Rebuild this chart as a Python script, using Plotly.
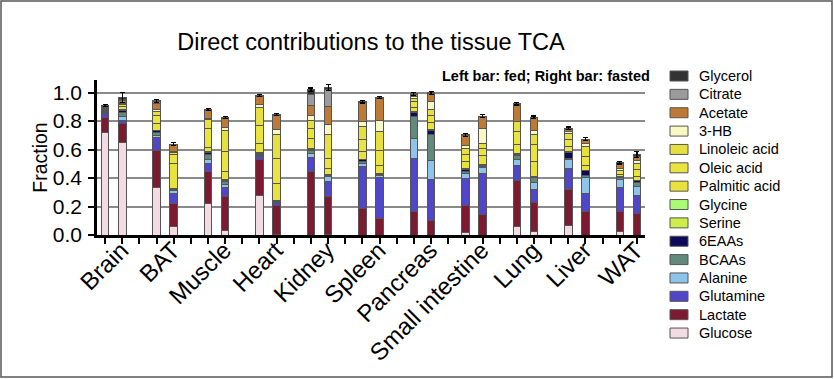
import plotly.graph_objects as go

tissues = ["Brain", "BAT", "Muscle", "Heart", "Kidney", "Spleen", "Pancreas",
           "Small intestine", "Lung", "Liver", "WAT"]

# order: for each tissue [fed, fasted]
glucose   = [0.720,0.648, 0.335,0.058, 0.222,0.030, 0.274,0.005, 0.000,0.003, 0.000,0.000, 0.000,0.000, 0.016,0.000, 0.058,0.023, 0.065,0.000, 0.028,0.000]
lactate   = [0.106,0.136, 0.261,0.164, 0.222,0.239, 0.257,0.199, 0.444,0.266, 0.187,0.117, 0.168,0.105, 0.188,0.147, 0.328,0.206, 0.255,0.164, 0.136,0.152]
glutamine = [0.025,0.023, 0.090,0.071, 0.059,0.066, 0.023,0.023, 0.101,0.105, 0.293,0.288, 0.370,0.286, 0.194,0.286, 0.101,0.087, 0.148,0.124, 0.171,0.122]
alanine   = [0.010,0.025, 0.014,0.018, 0.028,0.020, 0.006,0.003, 0.028,0.035, 0.023,0.010, 0.136,0.131, 0.032,0.039, 0.044,0.054, 0.065,0.119, 0.058,0.063]
bcaas     = [0.008,0.030, 0.022,0.006, 0.037,0.022, 0.006,0.003, 0.017,0.011, 0.014,0.008, 0.156,0.180, 0.015,0.010, 0.026,0.032, 0.007,0.013, 0.010,0.033]
eaas6     = [0.006,0.012, 0.010,0.005, 0.012,0.008, 0.006,0.004, 0.010,0.006, 0.010,0.007, 0.030,0.035, 0.016,0.008, 0.008,0.008, 0.040,0.031, 0.005,0.010]
serine    = [0.002,0.003, 0.002,0.001, 0.003,0.002, 0.002,0.001, 0.002,0.001, 0.002,0.001, 0.003,0.002, 0.002,0.001, 0.002,0.001, 0.002,0.002, 0.001,0.001]
glycine   = [0.002,0.003, 0.002,0.001, 0.002,0.002, 0.002,0.001, 0.002,0.001, 0.002,0.001, 0.003,0.002, 0.002,0.001, 0.002,0.001, 0.002,0.002, 0.001,0.001]
palmitic  = [0.008,0.020, 0.045,0.179, 0.030,0.055, 0.067,0.124, 0.074,0.040, 0.054,0.059, 0.030,0.050, 0.050,0.069, 0.063,0.103, 0.036,0.032, 0.016,0.027]
oleic     = [0.006,0.015, 0.055,0.060, 0.134,0.145, 0.129,0.175, 0.070,0.070, 0.086,0.105, 0.040,0.050, 0.050,0.047, 0.093,0.117, 0.047,0.062, 0.024,0.054]
linoleic  = [0.004,0.010, 0.030,0.015, 0.063,0.148, 0.124,0.169, 0.054,0.164, 0.094,0.129, 0.025,0.041, 0.045,0.032, 0.070,0.070, 0.046,0.071, 0.005,0.040]
hb3       = [0.002,0.005, 0.015,0.008, 0.008,0.019, 0.019,0.035, 0.040,0.077, 0.030,0.077, 0.008,0.054, 0.015,0.109, 0.005,0.035, 0.017,0.020, 0.010,0.017]
acetate   = [0.004,0.015, 0.045,0.046, 0.057,0.063, 0.060,0.100, 0.065,0.126, 0.134,0.157, 0.015,0.058, 0.072,0.081, 0.112,0.086, 0.014,0.027, 0.038,0.029]
citrate   = [0.002,0.008, 0.008,0.002, 0.002,0.002, 0.002,0.002, 0.082,0.113, 0.002,0.002, 0.003,0.002, 0.002,0.002, 0.003,0.002, 0.002,0.002, 0.002,0.005]
glycerol  = [0.003,0.012, 0.008,0.003, 0.003,0.003, 0.003,0.003, 0.031,0.019, 0.003,0.003, 0.004,0.002, 0.003,0.003, 0.005,0.003, 0.004,0.003, 0.003,0.010]
# error of the total (cap drawn at the top of each bar)
total_err = [0.008,0.035, 0.010,0.010, 0.008,0.008, 0.008,0.008, 0.012,0.020, 0.008,0.008, 0.010,0.010, 0.008,0.010, 0.008,0.008, 0.008,0.010, 0.010,0.020]

series = [
    ("Glucose", glucose, "#f2dbe3"),
    ("Lactate", lactate, "#7b1a30"),
    ("Glutamine", glutamine, "#4f46c8"),
    ("Alanine", alanine, "#8ec3ea"),
    ("BCAAs", bcaas, "#628a7c"),
    ("6EAAs", eaas6, "#0d0a5a"),
    ("Serine", serine, "#cdee4a"),
    ("Glycine", glycine, "#a8fb72"),
    ("Palmitic acid", palmitic, "#e9e23c"),
    ("Oleic acid", oleic, "#ebe33e"),
    ("Linoleic acid", linoleic, "#e6df40"),
    ("3-HB", hb3, "#f8f7c6"),
    ("Acetate", acetate, "#bd7a35"),
    ("Citrate", citrate, "#9b9b9b"),
    ("Glycerol", glycerol, "#333333"),
]

# positions: fed at 3i, fasted at 3i+1 (gap at 3i+2)
xpos = []
for i in range(len(tissues)):
    xpos += [3 * i, 3 * i + 1]

fig = go.Figure()
for name, vals, col in series:
    err = None
    if name == "Glycerol":
        err = dict(type="data", array=total_err, color="black", thickness=1.2, width=2.5)
    fig.add_trace(go.Bar(
        x=xpos, y=vals, name=name, width=0.44, showlegend=False, error_y=err,
        marker=dict(color=col, line=dict(color="#555555", width=1)),
    ))

W, H = 834, 379
ml, mr, mt, mb = 97, 189, 80, 144
pw, ph = W - ml - mr, H - mt - mb

def px(xp):
    return (xp - ml) / pw

def py(yp):
    return (H - mb - yp) / ph

font = "Liberation Sans, Arial, sans-serif"

annotations = [dict(text="<b>Left bar: fed; Right bar: fasted</b>", xref="paper", yref="paper",
                    x=px(652), xanchor="right", y=py(76), yanchor="middle",
                    showarrow=False, font=dict(size=14.5, family=font, color="black"))]
shapes = [dict(type="rect", xref="paper", yref="paper",
               x0=px(1), x1=px(W - 2), y0=py(H - 2), y1=py(1),
               line=dict(color="#555555", width=1.5), fillcolor="rgba(0,0,0,0)", layer="above")]

# manual legend (top item = last stacked series)
for k, (name, vals, col) in enumerate(reversed(series)):
    yc = 76 + k * 18.36
    shapes.append(dict(type="rect", xref="paper", yref="paper",
                       x0=px(670), x1=px(688), y0=py(yc + 5), y1=py(yc - 5),
                       line=dict(color="#555555", width=1), fillcolor=col))
    annotations.append(dict(text=name, xref="paper", yref="paper", x=px(697), xanchor="left",
                            y=py(yc), yanchor="middle", showarrow=False,
                            font=dict(size=14.5, family=font, color="black")))

fig.update_layout(
    width=W, height=H, barmode="stack",
    margin=dict(l=ml, r=mr, t=mt, b=mb, pad=0, autoexpand=False),
    paper_bgcolor="white", plot_bgcolor="white",
    font=dict(family=font, color="black"),
    title=dict(text="Direct contributions to the tissue TCA", x=371 / W, xanchor="center",
               y=1 - 42 / H, yanchor="middle", font=dict(size=23.5, family=font, color="black")),
    showlegend=False,
    xaxis=dict(range=[-0.47, 31.47], showline=True, linecolor="black", linewidth=2.5,
               automargin=False,
               tickmode="array", tickvals=[3 * i + 0.95 for i in range(len(tissues))],
               ticktext=tissues, tickangle=-45, ticks="", tickfont=dict(size=24, family=font),
               ticklabelstandoff=-11,
               showgrid=False, zeroline=False,
               minor=dict(tickmode="array", tickvals=list(range(32)), ticks="outside",
                          ticklen=6, tickwidth=2, tickcolor="black", showgrid=False)),
    yaxis=dict(range=[0, 1.088], showline=True, linecolor="black", linewidth=2.5,
               automargin=False,
               tickmode="array", tickvals=[0, 0.2, 0.4, 0.6, 0.8, 1.0],
               ticktext=["0.0", "0.2", "0.4", "0.6", "0.8", "1.0"],
               ticks="outside", ticklen=6, tickwidth=2, tickcolor="black",
               tickfont=dict(size=21, family=font), ticklabelstandoff=2,
               showgrid=True, gridcolor="#8a8a8a", gridwidth=1.5, zeroline=False,
               title=dict(text="Fraction", font=dict(size=19.5, family=font), standoff=1)),
    annotations=annotations,
    shapes=shapes,
)

fig.write_html("out.html", config={"displayModeBar": False},
               post_script="document.body.style.margin='0';document.body.style.overflow='hidden';")
